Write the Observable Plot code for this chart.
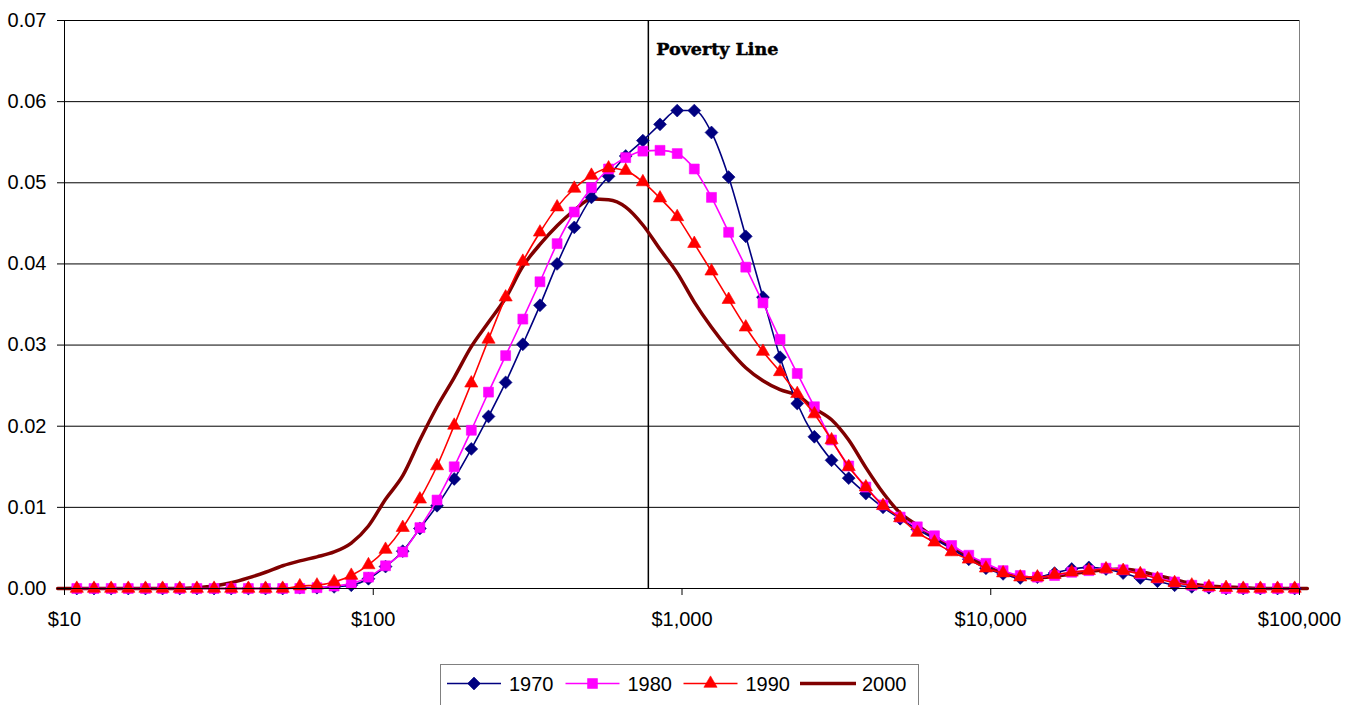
<!DOCTYPE html>
<html><head><meta charset="utf-8">
<script src="https://cdn.jsdelivr.net/npm/d3@7"></script>
<script src="https://cdn.jsdelivr.net/npm/@observablehq/plot@0.6"></script>
<style>
html,body{margin:0;padding:0;background:#fff;overflow:hidden;}
#wrap{position:relative;width:1364px;height:705px;}
#legend{position:absolute;left:0;top:650px;}
</style></head>
<body><div id="wrap"><div id="chart"></div><svg id="legend" width="1364" height="55"></svg></div>
<script>
// Income grid (US$ per year, log spaced) at which the densities are given
const incomes = [10.96, 12.46, 14.16, 16.09, 18.29, 20.78, 23.62, 26.84, 30.51, 34.67, 39.40, 44.78, 50.89, 57.83, 65.72, 74.69, 84.88, 96.48,
  109.6, 124.6, 141.6, 160.9, 182.9, 207.8, 236.2, 268.4, 305.1, 346.7, 394.0, 447.8, 508.9, 578.3, 657.2, 746.9, 848.8, 964.8,
  1096, 1246, 1416, 1609, 1829, 2078, 2362, 2684, 3051, 3467, 3940, 4478, 5089, 5783, 6572, 7469, 8488, 9648,
  10965, 12461, 14161, 16094, 18290, 20785, 23621, 26844, 30507, 34674, 39404, 44781, 50891, 57834, 65724, 74692, 84884, 96466];

const v1970 = [0,0,0,0,0,0,0,0,0,0,0,0,0,
  0.0001,0.0001,0.0002,0.0004,0.0012,0.0027,0.0046,0.0074,0.0102,0.0135,0.0172,0.0212,0.0254,0.0301,0.0349,0.0400,0.0445,0.0482,
  0.0508,0.0533,0.0552,0.0572,0.0589,0.0589,0.0562,0.0507,0.0434,0.0359,0.0285,0.0228,0.0187,0.0158,0.0136,0.0117,0.0100,0.0086,
  0.0073,0.0061,0.0049,0.0036,0.0025,0.0018,0.0013,0.0014,0.0019,0.0024,0.0026,0.0024,0.0019,0.0013,0.0009,0.0004,0.0002,0.0001,
  0,0,0,0,0];

const v1980 = [0,0,0,0,0,0,0,0,0,0,0,0,0,0,
  0.0001,0.0003,0.0006,0.0014,0.0028,0.0045,0.0075,0.0109,0.0150,0.0195,0.0242,0.0287,0.0332,0.0378,0.0425,0.0464,0.0494,
  0.0517,0.0531,0.0539,0.0540,0.0536,0.0517,0.0482,0.0439,0.0396,0.0352,0.0307,0.0265,0.0224,0.0183,0.0151,0.0125,0.0103,0.0088,
  0.0076,0.0065,0.0053,0.0041,0.0031,0.0022,0.0016,0.0014,0.0016,0.0020,0.0022,0.0025,0.0023,0.0018,0.0013,0.0008,0.0004,0.0002,
  0,0,0,0,0];

const v1990 = [0,0,0,0,0,0,0,0,0,0,0,0,0,
  0.0003,0.0004,0.0008,0.0016,0.0029,0.0048,0.0075,0.0110,0.0151,0.0201,0.0253,0.0307,0.0359,0.0403,0.0439,0.0470,0.0493,0.0509,
  0.0518,0.0515,0.0501,0.0481,0.0458,0.0425,0.0391,0.0356,0.0322,0.0292,0.0267,0.0240,0.0215,0.0183,0.0150,0.0125,0.0102,0.0087,
  0.0069,0.0057,0.0045,0.0036,0.0025,0.0019,0.0014,0.0014,0.0017,0.0020,0.0022,0.0024,0.0022,0.0018,0.0012,0.0007,0.0004,0.0002,0.0001,
  0,0,0,0];

// 2000 is a plain smoothed line on a slightly wider income range
const inc2000 = [9.5, ...incomes, 106000];
const v2000 = [0,
  0,0,0,0,0,0,0,0.0001,0.0003,0.0007,0.0013,0.0020,0.0028,0.0034,0.0039,0.0045,0.0056,0.0077,
  0.0110,0.0139,0.0183,0.0224,0.0260,0.0298,0.0328,0.0358,0.0397,0.0424,0.0447,0.0466,0.0480,0.0479,0.0470,0.0448,0.0418,0.0389,
  0.0353,0.0322,0.0295,0.0272,0.0256,0.0245,0.0238,0.0222,0.0208,0.0183,0.0149,0.0118,0.0093,0.0078,0.0063,0.0051,0.0039,0.0028,
  0.0019,0.0014,0.0013,0.0015,0.0018,0.0021,0.0023,0.0024,0.0021,0.0016,0.0011,0.0006,0.0003,0.0002,0.0001,0,0,0,
  0];

const seriesNames = ["1970", "1980", "1990", "2000"];
const seriesColors = ["#000080", "#FF00FF", "#FF0000", "#800000"];
const seriesSymbols = ["diamond2", "square", "triangle", null];
const xTicks = [10, 100, 1000, 10000, 100000];
const yTicks = [0, 0.01, 0.02, 0.03, 0.04, 0.05, 0.06, 0.07];
const povertyLine = 778;
const povertyLabel = "Poverty Line";

const rows = (xs, ys) => xs.map((x, i) => ({x, y: ys[i]}));
const r1970 = rows(incomes, v1970);
const r1980 = rows(incomes, v1980);
const r1990 = rows(incomes, v1990);
const r2000 = rows(inc2000, v2000);

const symR = {diamond2: 5.8, square: 5.6, triangle: 4.9};

function markerSeries(data, i) {
  return [
    Plot.line(data, {x: "x", y: "y", stroke: seriesColors[i], strokeWidth: 1.6, curve: "monotone-x"}),
    Plot.dot(data, {x: "x", y: "y", symbol: () => seriesSymbols[i], r: symR[seriesSymbols[i]],
      fill: seriesColors[i], stroke: seriesColors[i], strokeWidth: 0.6})
  ];
}

const chart = Plot.plot({
  width: 1364, height: 650,
  marginTop: 20, marginBottom: 62, marginLeft: 64, marginRight: 65,
  style: {fontFamily: "'Liberation Sans', Arial, sans-serif", fontSize: "20px", color: "#000", background: "#fff", overflow: "visible"},
  x: {type: "log", domain: [10, 100000]},
  y: {domain: [0, 0.07]},
  symbol: {type: "identity"},
  marks: [
    Plot.gridY(yTicks, {stroke: "#000", strokeOpacity: 1, strokeWidth: 1}),
    Plot.ruleX([100000], {stroke: "#808080", strokeWidth: 1}),
    Plot.ruleX([povertyLine], {stroke: "#000", strokeWidth: 1.5}),
    Plot.text([{x: povertyLine, t: povertyLabel}], {x: "x", text: "t", frameAnchor: "top", dx: 8, dy: 34,
      textAnchor: "start", lineAnchor: "bottom", fontFamily: "'DejaVu Serif', serif", fontWeight: "bold", fontSize: 17.5,
      stroke: "#000", strokeWidth: 0.5, fill: "#000"}),
    Plot.line(r2000, {x: "x", y: "y", stroke: seriesColors[3], strokeWidth: 3.5, curve: "monotone-x"}),
    ...markerSeries(r1970, 0),
    ...markerSeries(r1980, 1),
    ...markerSeries(r1990, 2),
    Plot.ruleX([10], {stroke: "#000", strokeWidth: 1}),
    Plot.ruleY([0], {stroke: "#000", strokeWidth: 1}),
    Plot.axisX({ticks: xTicks, tickFormat: d3.format("$,"), tickSize: 7, tickPadding: 16, label: null}),
    Plot.axisY({ticks: yTicks, tickFormat: d3.format(".2f"), tickSize: 7, tickPadding: 11, label: null})
  ]
});
document.getElementById("chart").appendChild(chart);

// Legend below the chart
const lg = d3.select("#legend");
lg.append("rect").attr("x", 440.5).attr("y", 14.5).attr("width", 478).attr("height", 60)
  .attr("fill", "#fff").attr("stroke", "#808080").attr("stroke-width", 1);
const itemX = [447, 565.5, 683.5, 800];
seriesNames.forEach((name, i) => {
  const g = lg.append("g").attr("transform", `translate(${itemX[i]},33.5)`);
  g.append("line").attr("x1", 0).attr("x2", i === 3 ? 56 : 54).attr("y1", 0).attr("y2", 0)
    .attr("stroke", seriesColors[i]).attr("stroke-width", i === 3 ? 3.5 : 1.6);
  if (seriesSymbols[i]) {
    const sym = {diamond2: d3.symbolDiamond2, square: d3.symbolSquare, triangle: d3.symbolTriangle}[seriesSymbols[i]];
    const r = symR[seriesSymbols[i]];
    g.append("path").attr("transform", "translate(27,0)")
      .attr("d", d3.symbol(sym, Math.PI * r * r)())
      .attr("fill", seriesColors[i]).attr("stroke", seriesColors[i]).attr("stroke-width", 0.6);
  }
  g.append("text").attr("x", 62).attr("y", 7.2).text(name)
    .attr("font-family", "'Liberation Sans', Arial, sans-serif").attr("font-size", 20).attr("fill", "#000");
});
</script>
</body></html>
